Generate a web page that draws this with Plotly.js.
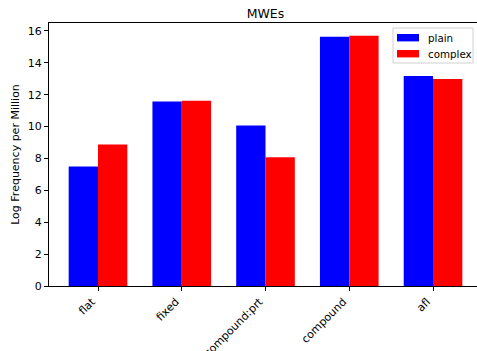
<!DOCTYPE html>
<html><head><meta charset="utf-8">
<script src="https://cdn.plot.ly/plotly-3.0.1.min.js"></script>
<style>html,body{margin:0;padding:0;background:#fff}</style>
</head><body>
<div id="chart" style="width:477px;height:351px"></div>
<script>
const categories = ["flat", "fixed", "compound:prt", "compound", "afl"];
const plainValues = [7.5, 11.58, 10.07, 15.64, 13.17];
const complexValues = [8.88, 11.62, 8.08, 15.70, 12.98];
const seriesNames = ["plain", "complex"];
const seriesColors = ["#0000ff", "#ff0000"];
const yTicks = [0, 2, 4, 6, 8, 10, 12, 14, 16];

const idx = categories.map((c, i) => i);
const font = "DejaVu Sans, sans-serif";
const L = 49, R = 477, T = 23, B = 286;
const px = x => (x - L) / (R - L);
const py = y => (B - y) / (B - T);

const traces = [
  {type: "bar", name: seriesNames[0], x: idx, y: plainValues, width: 0.35, offset: -0.35,
   marker: {color: seriesColors[0], line: {width: 0}}},
  {type: "bar", name: seriesNames[1], x: idx, y: complexValues, width: 0.35, offset: 0,
   marker: {color: seriesColors[1], line: {width: 0}}}
];

// custom legend (matplotlib-style)
const shapes = [
  {type: "rect", xref: "paper", yref: "paper", x0: px(393), x1: px(473), y0: py(28), y1: py(63),
   line: {color: "#d0d0d0", width: 1}, fillcolor: "rgba(255,255,255,0.8)", layer: "above"}
];
const annotations = [];
seriesNames.forEach((n, i) => {
  const cy = 37.7 + i * 16;
  shapes.push({type: "rect", xref: "paper", yref: "paper", x0: px(397), x1: px(419),
    y0: py(cy + 3.7), y1: py(cy - 3.7), line: {width: 0}, fillcolor: seriesColors[i], layer: "above"});
  annotations.push({xref: "paper", yref: "paper", x: px(426), y: py(cy), xanchor: "left", yanchor: "middle",
    text: n, showarrow: false, font: {family: font, size: 10.3, color: "#000"}});
});

const layout = {
  width: 477, height: 351,
  margin: {l: 49, r: 0, t: 23, b: 65},
  paper_bgcolor: "#fff", plot_bgcolor: "#fff",
  font: {family: font, size: 11, color: "#000"},
  title: {text: "MWEs", font: {family: font, size: 12.5, color: "#000"}, xref: "paper", x: px(265.5), xanchor: "center", y: 1 - 13.5/351, yanchor: "middle"},
  showlegend: false,
  shapes: shapes,
  annotations: annotations,
  xaxis: {range: [-0.585, 4.525], tickvals: idx, ticktext: categories, tickangle: -45,
    showgrid: false, zeroline: false, showline: true, linecolor: "#000", linewidth: 1, mirror: true,
    ticks: "outside", ticklen: 4, tickcolor: "#000", tickfont: {family: font, size: 11},
    ticklabelshift: -6},
  yaxis: {range: [0, 16.5], tickvals: yTicks, showgrid: false, zeroline: false, showline: true,
    linecolor: "#000", linewidth: 1, ticks: "outside", ticklen: 4, tickcolor: "#000",
    tickfont: {family: font, size: 11},
    title: {text: "Log Frequency per Million", font: {family: font, size: 11}, standoff: 5}}
};
Plotly.newPlot("chart", traces, layout, {displayModeBar: false, staticPlot: true});
</script>
</body></html>
